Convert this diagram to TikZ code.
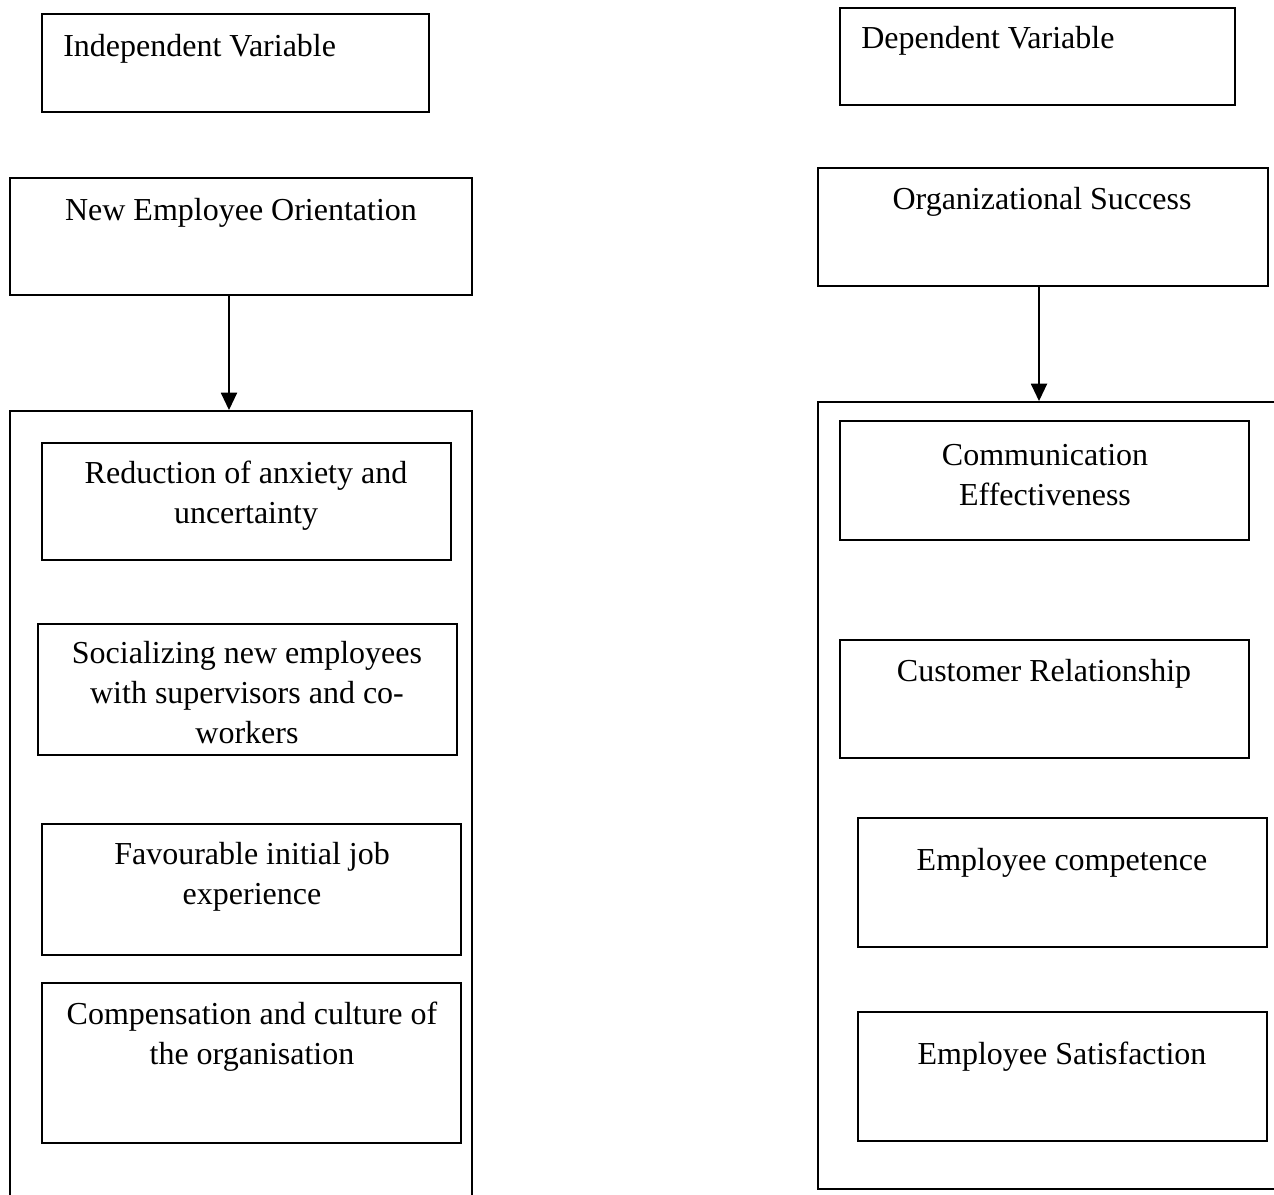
\documentclass[tikz,border=0pt]{standalone}
\usepackage{fontspec}
\setmainfont{Liberation Serif}
\usetikzlibrary{positioning,arrows.meta,fit}

\begin{document}
\begin{tikzpicture}[x=0.75pt,y=-0.75pt,font=\fontsize{24}{30}\selectfont,
   box/.style={draw=black,line width=1.4pt,inner sep=0pt},
   txt/.style={align=center,inner sep=0pt},
   flow/.style={-{Triangle[width=12pt,length=13pt]},draw=black,line width=1.4pt}]
 \useasboundingbox (0,0) rectangle (1274,1195);
 \clip (0,0) rectangle (1274,1195);
 % headings
 \node[box,fit={(42,14) (429,112)}] (iv) {};
 \node[txt,anchor=west] (ivt) at (63,49) {Independent Variable};
 \node[box,fit={(840,8) (1235,105)}] (dv) {};
 \node[txt,anchor=west] (dvt) at (861,41) {Dependent Variable};
 % left side
 \node[box,fit={(10,178) (472,295)}] (neo) {};
 \node[txt] (neot) at (241,213) {New Employee Orientation};
 \node[box,fit={(10,411) (472,1230)}] (lgrp) {};
 \node[box,fit={(42,443) (451,560)}] (red) {};
 \node[txt] (redt) at (246,496) {Reduction of anxiety and\\uncertainty};
 \node[box,fit={(38,624) (457,755)}] (soc) {};
 \node[txt] (soct) at (247,693) {Socializing new employees\\with supervisors and co-\\workers};
 \node[box,fit={(42,824) (461,955)}] (fav) {};
 \node[txt] (favt) at (252,877) {Favourable initial job\\experience};
 \node[box,fit={(42,983) (461,1143)}] (comp) {};
 \node[txt] (compt) at (252,1037) {Compensation and culture of\\the organisation};
 % right side
 \node[box,fit={(818,168) (1268,286)}] (org) {};
 \node[txt] (orgt) at (1042,202) {Organizational Success};
 \node[box,fit={(818,402) (1300,1189)}] (rgrp) {};
 \node[box,fit={(840,421) (1249,540)}] (comm) {};
 \node[txt] (commt) at (1045,475) {Communication\\Effectiveness};
 \node[box,fit={(840,640) (1249,758)}] (cust) {};
 \node[txt] (custt) at (1044,674) {Customer Relationship};
 \node[box,fit={(858,818) (1267,947)}] (ecom) {};
 \node[txt] (ecomt) at (1062,863) {Employee competence};
 \node[box,fit={(858,1012) (1267,1141)}] (esat) {};
 \node[txt] (esatt) at (1062,1057) {Employee Satisfaction};
 % arrows
 \draw[flow] ([xshift=-9pt]neo.south) -- ([xshift=-9pt]neo.south |- lgrp.north);
 \draw[flow] ([xshift=-3pt]org.south) -- ([xshift=-3pt]org.south |- rgrp.north);
\end{tikzpicture}
\end{document}
